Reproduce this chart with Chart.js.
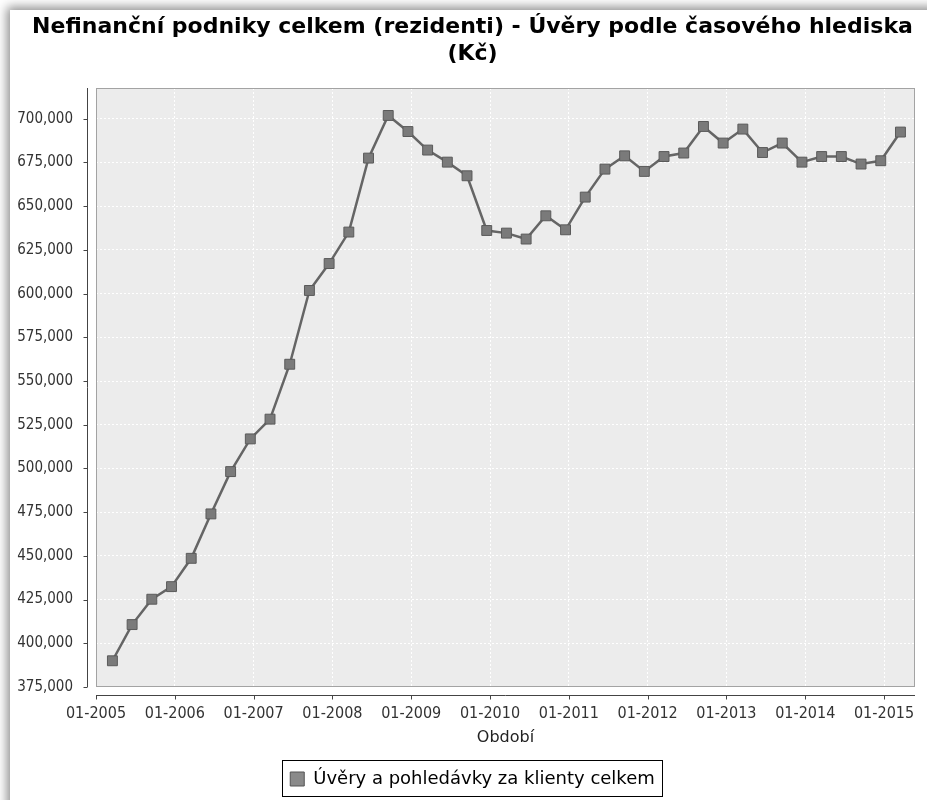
<!DOCTYPE html>
<html>
<head>
<meta charset="utf-8">
<script src="https://cdn.jsdelivr.net/npm/chart.js@4.4.1/dist/chart.umd.min.js"></script>
<style>
  html, body { margin: 0; padding: 0; background: #fff; }
  body { width: 927px; height: 800px; position: relative; overflow: hidden; }
  #card {
    position: absolute; left: 10px; top: 10px; width: 930px; height: 810px;
    background: #fff; box-shadow: 0 0 10px 3px rgba(0, 0, 0, 0.45);
  }
  #wrap { position: absolute; left: 0; top: 0; width: 927px; height: 800px; }
</style>
</head>
<body>
<div id="card"></div>
<div id="wrap"><canvas id="loansChart"></canvas></div>
<script>
const periods = [
  "03-2005", "06-2005", "09-2005", "12-2005",
  "03-2006", "06-2006", "09-2006", "12-2006",
  "03-2007", "06-2007", "09-2007", "12-2007",
  "03-2008", "06-2008", "09-2008", "12-2008",
  "03-2009", "06-2009", "09-2009", "12-2009",
  "03-2010", "06-2010", "09-2010", "12-2010",
  "03-2011", "06-2011", "09-2011", "12-2011",
  "03-2012", "06-2012", "09-2012", "12-2012",
  "03-2013", "06-2013", "09-2013", "12-2013",
  "03-2014", "06-2014", "09-2014", "12-2014",
  "03-2015",
];

const loans = [
  390000, 410700, 425200, 432400,
  448600, 474000, 498200, 516900,
  528200, 559600, 601800, 617200,
  635200, 677500, 701900, 692700,
  682100, 675200, 667400, 636100,
  634600, 631200, 644500, 636500,
  655200, 671200, 678800, 669900,
  678400, 680400, 695600, 686100,
  694100, 680700, 686100, 675200,
  678400, 678400, 674100, 676000,
  692400,
];

const yearTicks = [2005, 2006, 2007, 2008, 2009, 2010, 2011, 2012, 2013, 2014, 2015];
const valueTicks = [
  375000, 400000, 425000, 450000, 475000, 500000, 525000,
  550000, 575000, 600000, 625000, 650000, 675000, 700000,
];

const seriesLabel = "Úvěry a pohledávky za klienty celkem";
const chartTitle = [
  "Nefinanční podniky celkem (rezidenti) - Úvěry podle časového hlediska",
  "(Kč)",
];
const xTitle = "Období";

// month periods -> fractional years (middle of the month)
const points = periods.map((p, i) => {
  const [m, yr] = p.split("-").map(Number);
  return { x: yr + (m - 0.5) / 12, y: loans[i] };
});

const tickFamily = "'DejaVu Sans Condensed', 'DejaVu Sans'";

// plot background, outline, offset axis lines and legend frame
const framePlugin = {
  id: "frame",
  beforeDraw(chart) {
    const { ctx, chartArea: a } = chart;
    ctx.save();
    ctx.fillStyle = "#ececec";
    ctx.fillRect(a.left, a.top, a.right - a.left, a.bottom - a.top);
    ctx.restore();
  },
  beforeDatasetsDraw(chart) {
    const { ctx, chartArea: a, scales } = chart;
    ctx.save();
    ctx.lineWidth = 1;
    ctx.strokeStyle = "#a3a3a3";
    ctx.strokeRect(a.left + 0.5, a.top + 0.5, a.right - a.left - 1, a.bottom - a.top - 1);

    ctx.strokeStyle = "#444";
    ctx.beginPath();
    const ax = a.left - 8.5;
    ctx.moveTo(ax, a.top);
    ctx.lineTo(ax, a.bottom);
    scales.y.ticks.forEach((t) => {
      const py = Math.round(scales.y.getPixelForValue(t.value)) + 0.5;
      ctx.moveTo(ax - 4, py);
      ctx.lineTo(ax, py);
    });
    const ay = a.bottom + 8.5;
    ctx.moveTo(a.left, ay);
    ctx.lineTo(a.right, ay);
    scales.x.ticks.forEach((t) => {
      const px = Math.round(scales.x.getPixelForValue(t.value)) + 0.5;
      ctx.moveTo(px, ay);
      ctx.lineTo(px, ay + 4);
    });
    ctx.stroke();
    ctx.restore();
  },
  afterDraw(chart) {
    const hb = chart.legend.legendHitBoxes[0];
    if (!hb) return;
    const { ctx } = chart;
    ctx.save();
    ctx.strokeStyle = "#000";
    ctx.lineWidth = 1;
    ctx.strokeRect(Math.round(hb.left - 8) + 0.5, Math.round(hb.top - 10) + 0.5,
      Math.round(hb.width + 15), Math.round(hb.height + 18));
    ctx.restore();
  },
};

new Chart(document.getElementById("loansChart"), {
  type: "line",
  data: {
    datasets: [
      {
        label: seriesLabel,
        data: points,
        borderColor: "#656565",
        borderWidth: 2.5,
        pointStyle: "rect",
        pointRadius: 7,
        pointBackgroundColor: "#7a7a7a",
        pointBorderColor: "#5a5a5a",
        pointBorderWidth: 1,
        tension: 0,
      },
    ],
  },
  options: {
    responsive: true,
    maintainAspectRatio: false,
    animation: false,
    layout: { padding: { left: 30, right: 12, top: 0, bottom: 2 } },
    scales: {
      x: {
        type: "linear",
        min: 2005,
        max: 2015.393,
        afterBuildTicks: (s) => { s.ticks = yearTicks.map((v) => ({ value: v })); },
        afterFit: (s) => {
          s.height = 73;
          // keep the plot edge fixed, the end labels fit in the margins
          s.paddingLeft = 0;
          s.paddingRight = 0;
        },
        border: { display: false, dash: [2, 2] },
        grid: { color: "#ffffff", lineWidth: 1, drawTicks: false },
        ticks: {
          padding: 17,
          color: "#333",
          font: { family: tickFamily, size: 16 },
          maxRotation: 0,
          autoSkip: false,
          callback: (v) => "01-" + v,
        },
        title: {
          display: true,
          text: xTitle,
          color: "#222",
          font: { family: "'DejaVu Sans'", size: 16 },
          padding: { top: 0, bottom: 13 },
        },
      },
      y: {
        min: 375000,
        max: 717600,
        afterBuildTicks: (s) => { s.ticks = valueTicks.map((v) => ({ value: v })); },
        afterFit: (s) => {
          s.width = 66;
          // labels reach past the narrow axis box, so do not clip them
          s._computeLabelArea = () => undefined;
        },
        border: { display: false, dash: [2, 2] },
        grid: { color: "#ffffff", lineWidth: 1, drawTicks: false },
        ticks: {
          padding: 23,
          color: "#333",
          font: { family: tickFamily, size: 15 },
          autoSkip: false,
          callback: (v) => v.toLocaleString("en-US"),
        },
      },
    },
    plugins: {
      title: {
        display: true,
        text: chartTitle,
        color: "#000",
        font: { family: "'DejaVu Sans'", size: 22, weight: "bold", lineHeight: "27px" },
        padding: { top: 14, bottom: 20 },
      },
      legend: {
        display: true,
        position: "bottom",
        labels: {
          color: "#000",
          font: { family: "'DejaVu Sans'", size: 18 },
          usePointStyle: true,
          boxWidth: 14,
          boxHeight: 14,
          padding: 10,
          generateLabels: (chart) => {
            const items = Chart.defaults.plugins.legend.labels.generateLabels(chart);
            items.forEach((it) => {
              it.pointStyle = "rect";
              it.fillStyle = "#8a8a8a";
              it.strokeStyle = "#555";
              it.lineWidth = 1;
            });
            return items;
          },
        },
      },
      tooltip: { enabled: false },
    },
  },
  plugins: [framePlugin],
});
</script>
</body>
</html>
